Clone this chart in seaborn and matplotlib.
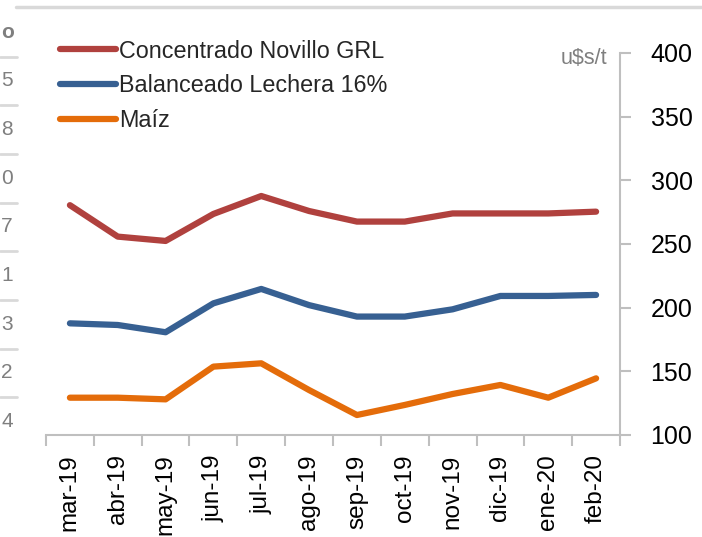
import pandas as pd
import numpy as np
import matplotlib
matplotlib.use("Agg")
import matplotlib.pyplot as plt
import seaborn as sns
from matplotlib.lines import Line2D

# Data (u$s/t)
months = ["mar-19", "abr-19", "may-19", "jun-19", "jul-19", "ago-19",
          "sep-19", "oct-19", "nov-19", "dic-19", "ene-20", "feb-20"]
concentrado = [280.5, 255.8, 252.4, 273.6, 287.7, 275.9, 267.6, 267.6, 274.0, 274.0, 274.0, 275.4]
balanceado  = [187.7, 186.4, 180.7, 203.4, 214.7, 202.0, 193.0, 193.0, 198.7, 209.2, 209.2, 210.0]
maiz        = [129.3, 129.3, 128.0, 153.7, 156.3, 135.3, 115.7, 123.6, 132.2, 139.3, 129.3, 144.5]

series_names  = ["Concentrado Novillo GRL", "Balanceado Lechera 16%", "Maíz"]
series_colors = ["#b0413e", "#376092", "#e46c0a"]

# Cropped neighbouring table on the left edge
side_digits = ["o", "5", "8", "0", "7", "1", "3", "2", "4"]

df = pd.DataFrame({"Mes": months * 3,
                   "Valor": concentrado + balanceado + maiz,
                   "Serie": np.repeat(series_names, len(months))})

sns.set_theme(style="white")
plt.rcParams["font.family"] = ["Liberation Sans", "DejaVu Sans"]

fig = plt.figure(figsize=(7.02, 5.37), dpi=100)
ax = fig.add_axes([46/702, 1 - 435/537, (620 - 46)/702, (435 - 53)/537])

sns.lineplot(data=df, x="Mes", y="Valor", hue="Serie", palette=series_colors,
             linewidth=4.5, solid_capstyle="round", legend=False, ax=ax,
             sort=False)

ax.set_xlim(-0.5, len(months) - 0.5)
ax.set_ylim(100, 400)
ax.set_yticks(np.arange(100, 401, 50))
ax.yaxis.tick_right()
ax.set_xlabel("")
ax.set_ylabel("")

for s in ["left", "top"]:
    ax.spines[s].set_visible(False)
for s in ["right", "bottom"]:
    ax.spines[s].set_color("#bfbfbf")
    ax.spines[s].set_linewidth(1.5)

ax.set_xticks(range(len(months)))
ax.set_xticklabels(months, rotation=90, fontsize=17.5, color="black")
ax.set_xticks(np.arange(-0.5, len(months)), minor=True)
ax.tick_params(axis="x", which="major", length=0, pad=14)
ax.tick_params(axis="x", which="minor", length=8, width=1.5, color="#bfbfbf", bottom=True)
ax.tick_params(axis="y", which="major", length=8, width=1.5, color="#bfbfbf",
               labelsize=18, labelcolor="black", pad=14, right=True)

fig.text(607/702, 1 - 58/537, "u$s/t", ha="right", va="center",
         fontsize=15.5, color="#7f7f7f")

handles = [Line2D([0], [0], color=c, lw=4.5, solid_capstyle="round") for c in series_colors]
ax.legend(handles, series_names, loc="upper left", bbox_to_anchor=(48/702, 1 - 28/537),
          bbox_transform=fig.transFigure, frameon=False, fontsize=16.8,
          handlelength=2.4, handletextpad=0.15, labelspacing=0.5, borderpad=0)

# Neighbouring table fragment on the left
fig.add_artist(Line2D([16/702, 1], [1 - 7/537, 1 - 7/537], color="#d9d9d9", lw=2.5,
                      transform=fig.transFigure))
for i, d in enumerate(side_digits):
    y = 32 + i * 48.7
    fig.text(1/702, 1 - y/537, d, ha="left", va="center", fontsize=15, color="#7f7f7f",
             fontweight="bold" if i == 0 else "normal")
    if i < len(side_digits) - 1:
        yl = y + 24.5
        fig.add_artist(Line2D([0, 17/702], [1 - yl/537, 1 - yl/537], color="#d9d9d9",
                              lw=2, transform=fig.transFigure))

fig.savefig("out.png", dpi=100)
